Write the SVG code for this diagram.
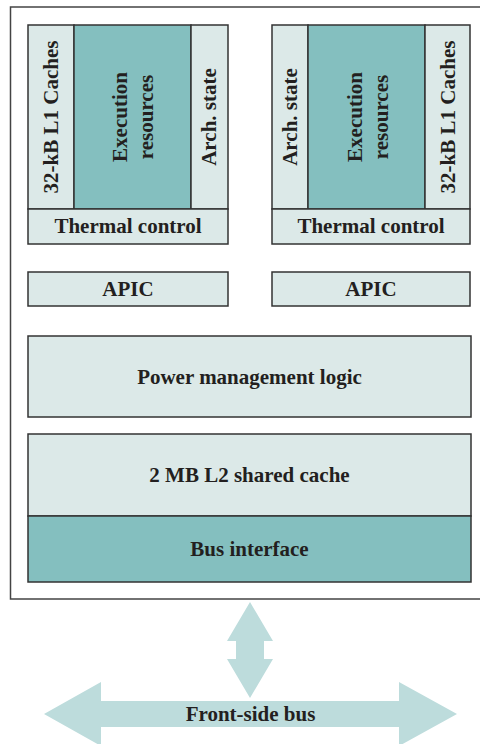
<svg xmlns="http://www.w3.org/2000/svg" width="480" height="744" viewBox="0 0 480 744">
<style>
.light{fill:#dce9e8;stroke:#333;stroke-width:1.5}
.teal{fill:#84bfbf;stroke:#333;stroke-width:1.5}
.arrow{fill:#bddcdc;stroke:none}
text{font-family:"Liberation Serif","Times New Roman",serif;font-weight:bold;font-size:21px;fill:#231f20;text-anchor:middle}
</style>
<rect width="480" height="744" fill="#fff"/>
<path d="M482 7 H10.5 V599 H482" fill="none" stroke="#444" stroke-width="1.5"/>
<g id="core1">
<rect class="light" x="28" y="25" width="46" height="184"/>
<rect class="teal" x="74" y="25" width="117" height="184"/>
<rect class="light" x="191" y="25" width="37" height="184"/>
<text transform="translate(58 117) rotate(-90)">32-kB L1 Caches</text>
<text transform="translate(127 117) rotate(-90)">Execution</text>
<text transform="translate(153 117) rotate(-90)">resources</text>
<text transform="translate(216 117) rotate(-90)">Arch. state</text>
</g>
<g id="thermal1">
<rect class="light" x="28" y="209" width="200" height="35"/>
<text x="128" y="233">Thermal control</text>
</g>
<g id="core2">
<rect class="light" x="272" y="25" width="36" height="184"/>
<rect class="teal" x="308" y="25" width="117" height="184"/>
<rect class="light" x="425" y="25" width="45" height="184"/>
<text transform="translate(297 117) rotate(-90)">Arch. state</text>
<text transform="translate(362 117) rotate(-90)">Execution</text>
<text transform="translate(388 117) rotate(-90)">resources</text>
<text transform="translate(455 117) rotate(-90)">32-kB L1 Caches</text>
</g>
<g id="thermal2">
<rect class="light" x="272" y="209" width="198" height="35"/>
<text x="371" y="233">Thermal control</text>
</g>
<g id="apic1">
<rect class="light" x="28" y="272" width="200" height="34"/>
<text x="128" y="296">APIC</text>
</g>
<g id="apic2">
<rect class="light" x="272" y="272" width="198" height="34"/>
<text x="371" y="296">APIC</text>
</g>
<g id="power">
<rect class="light" x="28" y="336" width="443" height="81"/>
<text x="249.5" y="384">Power management logic</text>
</g>
<g id="l2">
<rect class="light" x="28" y="434" width="443" height="82"/>
<text x="249.5" y="482">2 MB L2 shared cache</text>
</g>
<g id="bus">
<rect class="teal" x="28" y="516" width="443" height="66"/>
<text x="249.5" y="556">Bus interface</text>
</g>
<g id="connectors">
<polygon class="arrow" points="250,602 273,641 264,641 264,659 273,659 250,698 227,659 236,659 236,641 227,641"/>
<polygon class="arrow" points="44,714 101,682 101,701 399,701 399,682 457,714 399,746 399,727 101,727 101,746"/>
</g>
<g id="fsb">
<text x="250.5" y="721">Front-side bus</text>
</g>
</svg>
